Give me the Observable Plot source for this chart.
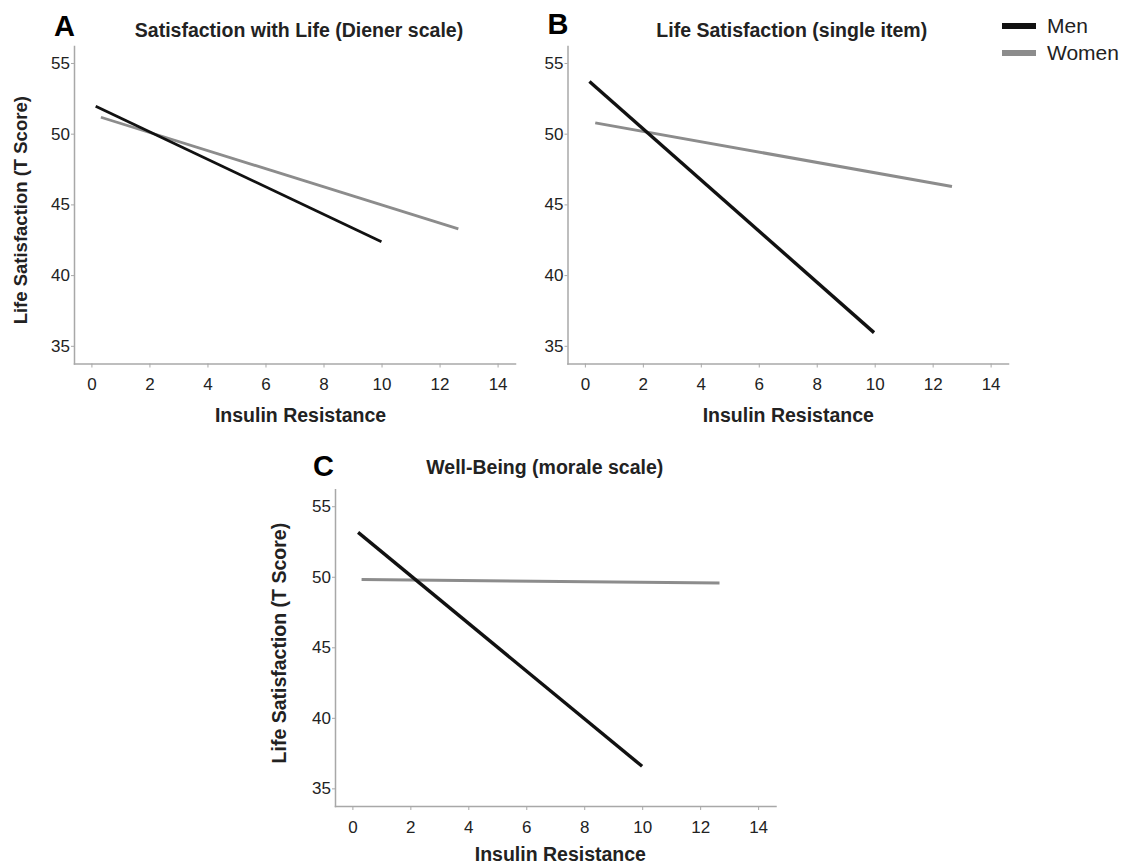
<!DOCTYPE html>
<html>
<head>
<meta charset="utf-8">
<script src="https://cdn.jsdelivr.net/npm/d3@7"></script>
<script src="https://cdn.jsdelivr.net/npm/@observablehq/plot@0.6"></script>
<style>
  html, body { margin: 0; padding: 0; background: #fff; }
  #root { position: relative; width: 1130px; height: 865px; overflow: hidden; font-family: "Liberation Sans", Arial, sans-serif; }
  .panel { position: absolute; }
  .legend { position: absolute; left: 1002px; top: 12px; font-family: "Liberation Sans", Arial, sans-serif; font-size: 21px; color: #222; }
  .legend .item { display: flex; align-items: center; height: 27px; }
  .legend .sw { width: 34px; height: 6px; margin-right: 11px; }
</style>
</head>
<body>
<div id="root"></div>
<script>
// ---- data ----
const seriesNames = ["Men", "Women"];
const seriesColors = ["#111111", "#8c8c8c"];
const panelIds = ["A", "B", "C"];
const panelTitles = [
  "Satisfaction with Life (Diener scale)",
  "Life Satisfaction (single item)",
  "Well-Being (morale scale)"
];
// fitted regression lines (start and end points) per panel
const menStartX   = [0.13, 0.14, 0.18];
const menStartY   = [51.97, 53.73, 53.18];
const menEndX     = [9.98, 9.96, 9.98];
const menEndY     = [42.4, 35.97, 36.6];
const womenStartX = [0.31, 0.34, 0.30];
const womenStartY = [51.2, 50.8, 49.84];
const womenEndX   = [12.63, 12.65, 12.65];
const womenEndY   = [43.3, 46.3, 49.6];
const xTicks = [0, 2, 4, 6, 8, 10, 12, 14];
const yTicks = [35, 40, 45, 50, 55];
const xTitle = "Insulin Resistance";
const yTitle = "Life Satisfaction (T Score)";

// ---- build table ----
const rows = [];
panelIds.forEach((p, i) => {
  rows.push({panel: p, series: seriesNames[0], x: menStartX[i], y: menStartY[i]});
  rows.push({panel: p, series: seriesNames[0], x: menEndX[i], y: menEndY[i]});
  rows.push({panel: p, series: seriesNames[1], x: womenStartX[i], y: womenStartY[i]});
  rows.push({panel: p, series: seriesNames[1], x: womenEndX[i], y: womenEndY[i]});
});

// ---- layout (styles) ----
const layouts = [
  {left: 0, top: 0, width: 540, height: 430, mL: 74, mT: 46, mR: 25, mB: 66.5,
   letter: [-10, -20], title: [4, -16], xt: [5.5, 51.5], yt: [-53.5, 5, 18.5], menW: 2.8, womenW: 2.8},
  {left: 520, top: 0, width: 510, height: 430, mL: 47.5, mT: 46, mR: 22, mB: 66.5,
   letter: [-10, -21.5], title: [3.5, -16], xt: [0, 51.5], yt: null, menW: 3.4, womenW: 3},
  {left: 260, top: 430, width: 540, height: 435, mL: 75, mT: 59.3, mR: 24.5, mB: 59,
   letter: [-12, -22.6], title: [-11, -22], xt: [4.6, 48.5], yt: [-56, -5, 19.5], menW: 3.4, womenW: 3}
];

const font = '"Liberation Sans", Arial, sans-serif';
const tickFont = 17;
const root = document.getElementById("root");

panelIds.forEach((p, i) => {
  const L = layouts[i];
  const data = rows.filter(d => d.panel === p);
  const marks = [
    Plot.frame({anchor: "left", stroke: "#a8a8a8", strokeWidth: 1.5}),
    Plot.frame({anchor: "bottom", stroke: "#a8a8a8", strokeWidth: 1.5}),
    Plot.axisX(xTicks, {tickSize: 4, tickPadding: 10, stroke: "#a8a8a8", fill: "#222", fontSize: tickFont, label: null}),
    Plot.axisY(yTicks, {tickSize: 3, tickPadding: 1.5, stroke: "#a8a8a8", fill: "#222", fontSize: tickFont, label: null}),
    Plot.line(data.filter(d => d.series === seriesNames[1]), {x: "x", y: "y", stroke: "series", strokeWidth: L.womenW, strokeLinecap: "butt"}),
    Plot.line(data.filter(d => d.series === seriesNames[0]), {x: "x", y: "y", stroke: "series", strokeWidth: L.menW, strokeLinecap: "butt"}),
    Plot.text([p], {frameAnchor: "top-left", text: d => d, dx: L.letter[0], dy: L.letter[1], fontSize: 29, fontWeight: "bold", fill: "#000", textAnchor: "middle", lineAnchor: "middle"}),
    Plot.text([panelTitles[i]], {frameAnchor: "top", text: d => d, dx: L.title[0], dy: L.title[1], fontSize: 19.5, fontWeight: "bold", fill: "#222", lineAnchor: "middle"}),
    Plot.text([xTitle], {frameAnchor: "bottom", text: d => d, dx: L.xt[0], dy: L.xt[1], fontSize: 19.5, fontWeight: "bold", fill: "#222", lineAnchor: "middle"})
  ];
  if (L.yt) {
    marks.push(Plot.text([yTitle], {frameAnchor: "left", text: d => d, dx: L.yt[0], dy: L.yt[1], rotate: -90, fontSize: L.yt[2], fontWeight: "bold", fill: "#222", lineAnchor: "middle", textAnchor: "middle"}));
  }
  const chart = Plot.plot({
    width: L.width,
    height: L.height,
    marginLeft: L.mL, marginTop: L.mT, marginRight: L.mR, marginBottom: L.mB,
    x: {domain: [-0.6, 14.6], axis: null},
    y: {domain: [33.75, 56.2], axis: null},
    color: {domain: seriesNames, range: seriesColors},
    style: {fontFamily: font, color: "#222", background: "transparent", overflow: "visible"},
    marks
  });
  chart.querySelectorAll('g[aria-label*="tick label"]').forEach(g => {
    g.setAttribute("font-size", tickFont);
    g.style.fontSize = tickFont + "px";
  });
  const wrap = document.createElement("div");
  wrap.className = "panel";
  wrap.style.left = L.left + "px";
  wrap.style.top = L.top + "px";
  wrap.appendChild(chart);
  root.appendChild(wrap);
});

// legend
const legend = document.createElement("div");
legend.className = "legend";
seriesNames.forEach((s, i) => {
  const item = document.createElement("div");
  item.className = "item";
  const sw = document.createElement("div");
  sw.className = "sw";
  sw.style.background = seriesColors[i];
  const t = document.createElement("span");
  t.textContent = s;
  item.appendChild(sw);
  item.appendChild(t);
  legend.appendChild(item);
});
root.appendChild(legend);
</script>
</body>
</html>
